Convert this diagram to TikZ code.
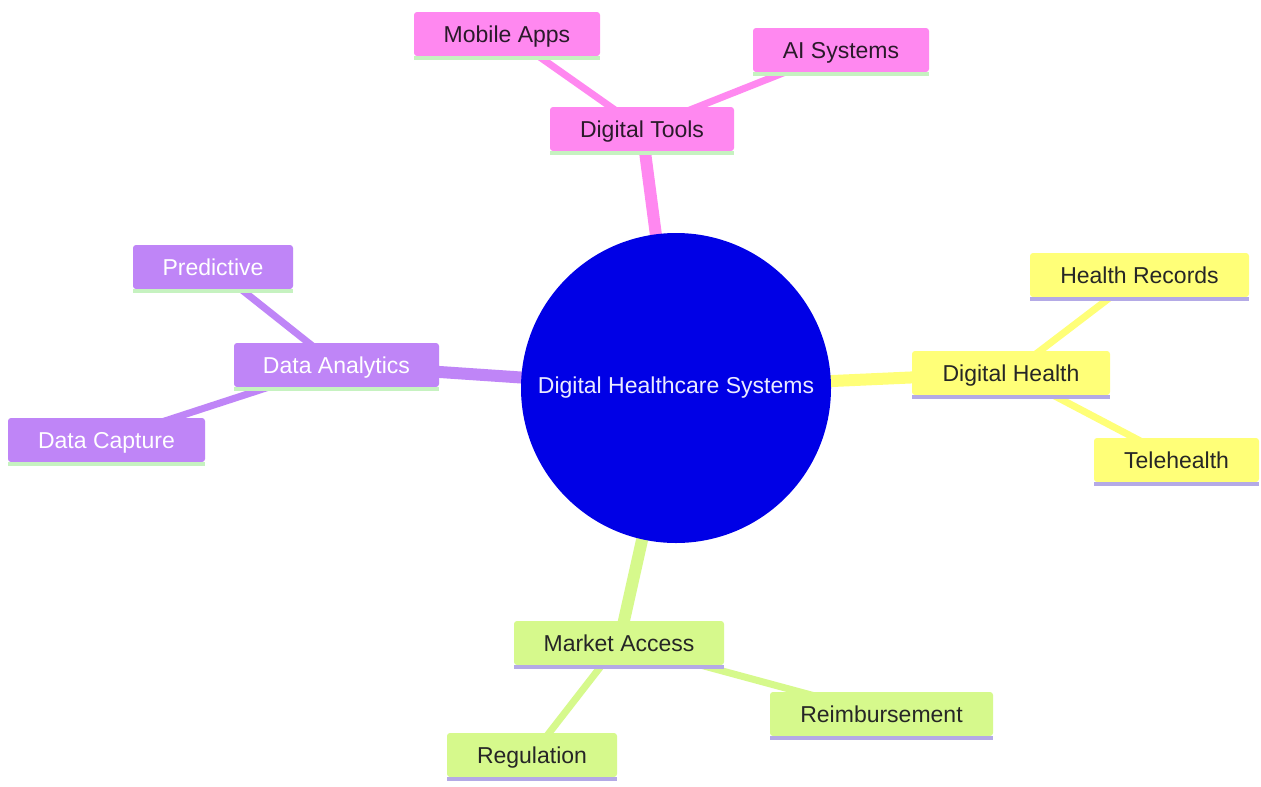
\documentclass[tikz,border=0pt]{standalone}
\usepackage{fontspec}
\setmainfont{Liberation Sans}
\usetikzlibrary{backgrounds}
\definecolor{pinkc}{HTML}{FF88F0}
\definecolor{purpc}{HTML}{BF85F7}
\definecolor{yelc}{HTML}{FFFF78}
\definecolor{grnc}{HTML}{D6F98C}
\definecolor{ulgreen}{HTML}{C6F2C0}
\definecolor{ullav}{HTML}{B4AAE6}
\definecolor{rootc}{HTML}{0000E6}
\definecolor{darktxt}{HTML}{2A1A2A}
\tikzset{
  mmbox/.style={rounded corners=3pt, minimum height=44pt, inner sep=0pt, text height=20pt, text depth=4pt},
  pinkbox/.style={mmbox, fill=pinkc, text=darktxt},
  purpbox/.style={mmbox, fill=purpc, text=white},
  yelbox/.style={mmbox, fill=yelc, text=black!85},
  grnbox/.style={mmbox, fill=grnc, text=black!85},
  mainedge/.style={line width=12pt},
  subedge/.style={line width=7pt},
}
\begin{document}
\begin{tikzpicture}[x=1pt,y=-1pt, font=\fontsize{23}{27}\selectfont]
\useasboundingbox (0,0) rectangle (1261,787);

\node[circle, fill=rootc, minimum size=310pt, inner sep=0pt, text=blue!8] (root) at (676,388) {Digital Healthcare Systems};

\node[pinkbox, minimum width=184pt] (tools) at (642,129) {Digital Tools};
\node[pinkbox, minimum width=186pt] (mob) at (507,34) {Mobile Apps};
\node[pinkbox, minimum width=176pt] (ai) at (841,50) {AI Systems};

\node[yelbox, minimum width=198pt] (dh) at (1011,373) {Digital Health};
\node[yelbox, minimum width=219pt] (hr) at (1139.5,275) {Health Records};
\node[yelbox, minimum width=165pt] (tele) at (1176.5,460) {Telehealth};

\node[purpbox, minimum width=205pt] (da) at (336.5,365) {Data Analytics};
\node[purpbox, minimum width=160pt] (pred) at (213,267) {Predictive};
\node[purpbox, minimum width=197pt] (cap) at (106.5,440) {Data Capture};

\node[grnbox, minimum width=210pt] (ma) at (619,643) {Market Access};
\node[grnbox, minimum width=223pt] (reim) at (881.5,714) {Reimbursement};
\node[grnbox, minimum width=170pt] (reg) at (532,755) {Regulation};

% underlines
\foreach \n in {tools,mob,ai,da,pred,cap}
  \fill[ulgreen] (\n.south west) rectangle ([yshift=-4pt]\n.south east);
\foreach \n in {dh,hr,tele,ma,reim,reg}
  \fill[ullav] (\n.south west) rectangle ([yshift=-4pt]\n.south east);

\begin{pgfonlayer}{background}
  \fill[white] (0,0) rectangle (1261,787);
  \draw[mainedge, pinkc] (root.center) -- (tools.center);
  \draw[subedge, pinkc] (tools.center) -- (mob.center);
  \draw[subedge, pinkc] (tools.center) -- (ai.center);
  \draw[mainedge, yelc] (root.center) -- (dh.center);
  \draw[subedge, yelc] (dh.center) -- (hr.center);
  \draw[subedge, yelc] (dh.center) -- (tele.center);
  \draw[mainedge, purpc] (root.center) -- (da.center);
  \draw[subedge, purpc] (da.center) -- (pred.center);
  \draw[subedge, purpc] (da.center) -- (cap.center);
  \draw[mainedge, grnc] (root.center) -- (ma.center);
  \draw[subedge, grnc] (ma.center) -- (reim.center);
  \draw[subedge, grnc] (ma.center) -- (reg.center);
\end{pgfonlayer}
\end{tikzpicture}
\end{document}
